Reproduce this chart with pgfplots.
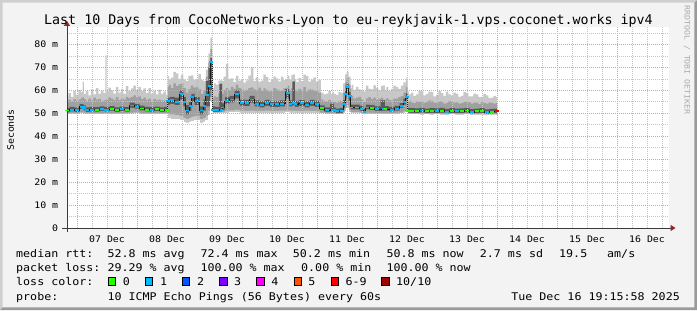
\documentclass[border=0pt]{standalone}
\usepackage{pgfplots}
\pgfplotsset{compat=1.18}
\usepackage{pgfplotstable}
\usetikzlibrary{arrows.meta}
\usepackage{fontspec}
\setmainfont{DejaVu Sans Mono}
\newfontfamily\titlef{DejaVu Sans Mono}
\newfontfamily\stf[FakeStretch=1.1]{DejaVu Sans Mono}
\newcommand\Ttl{\titlef\fontsize{13.3bp}{16bp}\selectfont}
\newcommand\Leg{\stf\fontsize{10.6bp}{13bp}\selectfont}
\newcommand\Tck{\stf\fontsize{9bp}{11bp}\selectfont}
\newcommand\Wm{\stf\fontsize{7.5bp}{9bp}\selectfont}

\definecolor{bgc}{HTML}{F3F3F3}
\definecolor{shadea}{HTML}{CFCFCF}
\definecolor{shadeb}{HTML}{9A9A9A}
\definecolor{gridred}{HTML}{E89A9A}
\definecolor{gridgray}{HTML}{C4C4C4}
\definecolor{smk1}{HTML}{C8C8C8}
\definecolor{smk2}{HTML}{A0A0A0}
\definecolor{smk3}{HTML}{5A5A5A}
\definecolor{medc}{HTML}{1A1A1A}
\definecolor{arrowc}{HTML}{9B2222}
\definecolor{axc}{HTML}{3C3C3C}
\definecolor{wmc}{HTML}{ABABAB}
\definecolor{L0}{HTML}{26FF00}
\definecolor{L1}{HTML}{00B8FF}
\definecolor{L2}{HTML}{0059FF}
\definecolor{L3}{HTML}{7E00FF}
\definecolor{L4}{HTML}{FF00FF}
\definecolor{L5}{HTML}{FF5500}
\definecolor{L6}{HTML}{FF0000}
\definecolor{L10}{HTML}{A10000}

% h = hours after 07 Dec 00:00; values in ms
% upper smoke: hi = smoke top, mt = top of medium smoke
\pgfplotstableread{
h hi mt
-4 57.5 55.0
-3 58.9 55.8
-2 57.2 55.2
-1 59.6 56.2
0 58.0 55.4
1 60.1 56.0
2 59.2 56.6
2.4 63.8 57.0
3 58.4 56.2
4 59.6 55.4
5 57.8 56.4
6 60.4 55.6
7 58.2 56.8
8 61.0 55.9
9 58.6 56.3
10 59.8 55.4
11 58.8 55.6
11.6 75.2 56.0
12 59.4 56.0
13 61.2 56.9
14 60.0 56.4
15 58.6 55.7
16 61.4 57.0
17 59.0 55.7
18 60.6 56.5
19 58.4 56.1
20 61.8 57.2
21 59.6 56.6
22 60.8 57.2
23 62.0 57.8
24 60.2 56.9
25 61.4 57.4
26 59.8 56.2
27 60.9 56.8
28 58.8 55.8
29 61.0 56.4
30 58.6 55.4
31 59.9 56.2
32 58.2 55.6
33 60.3 56.0
34 58.4 55.5
35 59.4 55.6
36 58.0 55.4
36.4 66.2 61.5
37 64.8 62.4
38 65.5 61.0
39 68.0 63.0
40 67.4 61.8
41 65.0 62.6
42 66.8 63.0
43 64.8 61.0
44 64.0 59.0
45 66.2 60.5
46 66.5 62.0
47 64.6 61.2
48 65.0 61.5
49 67.2 60.4
50 64.6 58.5
51 64.0 60.0
52 69.0 66.0
53 76.0 72.0
53.6 83.0 78.0
54.4 61.0 56.5
55 63.0 57.4
56 62.5 57.0
57 64.2 58.6
57.8 64.5 63.0
58.2 64.0 58.5
59 66.0 60.2
60 71.5 61.0
61 65.0 60.2
62 65.2 61.5
63 63.6 60.6
64 66.3 62.5
65 64.2 61.0
66 65.0 60.5
67 63.4 59.6
68 64.3 60.2
69 66.4 61.0
70 70.0 61.3
71 64.0 60.4
72 65.6 60.0
73 63.8 61.2
74 64.2 59.6
75 66.8 60.8
76 65.8 60.2
77 63.6 59.4
78 64.6 59.8
79 66.0 61.0
80 65.2 60.4
81 63.9 59.6
82 66.0 59.9
83 64.4 60.8
84 65.0 61.2
84.4 66.4 62.0
85.4 64.8 60.0
86 66.6 61.0
86.8 67.0 64.0
87.4 65.0 60.2
88 63.6 59.5
89 65.4 60.6
90 64.0 60.0
91 66.8 61.4
92 66.2 59.5
93 63.8 60.4
94 64.8 60.3
95 65.6 59.8
96 63.8 59.6
97 64.6 59.0
98 59.0 56.0
99 58.2 55.4
100 58.6 55.2
101 59.6 55.8
102 58.4 55.0
102.4 59.2 55.4
103 58.4 55.0
104 58.0 54.6
105 59.2 55.4
106 59.0 55.2
106.8 63.0 59.0
107.6 67.0 63.5
108 68.2 65.5
109.2 66.0 62.5
109.6 61.0 57.0
110 62.4 57.6
111 60.2 56.4
112 61.5 56.8
113 60.4 57.2
114 60.0 56.2
115 59.5 55.0
116 62.0 56.5
117 60.6 57.0
118 60.4 56.2
119 62.2 56.8
120 61.0 55.8
121 60.0 56.4
122 61.8 56.8
122.8 62.2 56.0
123.4 60.0 56.0
124 61.4 56.6
125 59.8 55.8
126 60.6 55.6
127 62.0 56.4
128 61.4 56.4
129 60.6 57.0
130 62.0 57.5
131 63.5 59.0
132 65.2 61.5
132.4 59.5 55.0
133 58.2 55.4
134 59.0 54.8
135 57.6 54.4
136 58.2 55.2
137 59.8 55.0
138 59.6 54.9
139 57.8 54.5
140 58.4 55.0
141 59.4 55.6
142 59.2 55.4
143 57.4 54.6
144 58.0 54.6
145 59.6 55.2
146 58.8 55.0
147 57.6 54.2
148 59.4 54.5
149 58.2 55.4
150 57.8 55.1
151 59.0 54.6
152 58.6 54.8
153 57.2 54.2
154 57.6 54.4
155 59.2 55.0
156 58.8 55.0
157 57.4 54.8
158 57.4 54.2
159 58.6 54.6
160 58.2 54.6
161 57.0 54.0
162 57.2 54.9
163 58.4 54.4
164 57.8 54.2
165 56.6 54.6
166 56.8 54.5
167 57.6 54.2
168 57.0 54.4
}\upper

% lo: smoke bottom, ml/dl: lower edges of medium/dark smoke,
% med: median, dt: top of dark smoke, c: loss class
\pgfplotstableread{
h lo ml dl med dt c
-4 49.6 50.1 50.4 51.2 52.4 g
-2 49.7 50.2 50.8 51.6 52.8 c
0 49.5 50.0 50.5 51.3 52.5 c
2 49.8 50.4 51.8 52.8 54.0 c
2.4 49.8 50.4 51.8 52.8 54.0 c
2.8 49.7 50.3 51.3 52.2 53.4 c
4 49.6 50.1 50.6 51.4 52.6 c
6 49.5 50.0 50.8 51.6 52.8 c
8 49.6 50.1 50.7 51.5 52.7 g
10 49.5 50.0 51.0 51.8 53.0 c
11.6 49.6 50.1 50.8 51.6 52.8 c
12 49.6 50.1 50.8 51.6 52.8 c
14 49.5 50.0 51.1 51.9 53.1 g
16 49.6 50.1 50.6 51.4 52.6 g
18 49.5 50.0 50.9 51.7 52.9 c
20 49.6 50.1 50.7 51.5 52.7 g
22 49.7 50.3 52.4 53.4 54.6 c
24 49.8 50.4 52.0 52.9 54.1 c
26 49.6 50.1 51.3 52.1 53.3 g
28 49.5 50.0 50.8 51.6 52.8 g
30 49.5 50.0 50.7 51.5 52.7 c
32 49.6 50.1 50.9 51.7 52.9 g
34 49.5 50.0 50.6 51.4 52.6 g
36 49.6 50.1 50.8 51.6 52.8 g
36.4 47.8 49.8 53.7 55.2 56.8 c
38 47.5 49.5 54.1 55.6 57.2 c
40 47.2 49.2 53.5 55.0 56.8 c
42 46.8 48.8 56.0 58.4 60.0 c
43 46.0 48.0 53.0 55.0 57.0 c
44 45.8 47.5 49.5 51.2 53.5 c
45.5 46.2 48.0 51.0 53.0 55.0 c
46 46.5 48.5 55.0 57.0 58.5 c
48 46.8 48.8 53.5 55.2 57.0 c
50 45.8 47.5 49.5 51.2 53.0 c
51 46.2 48.0 51.0 53.0 56.0 c
52 47.0 49.0 53.0 58.0 64.0 c
53 49.0 51.0 53.0 62.0 70.0 c
53.6 55.0 57.0 60.0 72.5 74.0 c
54.4 49.8 50.4 50.6 51.4 53.0 c
56 49.8 50.4 50.6 51.4 52.8 c
57.8 49.9 50.5 50.8 51.6 62.8 c
58.2 49.9 50.5 51.5 52.5 54.3 c
60 50.2 51.2 54.2 55.4 57.0 c
62 50.3 51.3 54.8 56.0 57.6 c
64 50.5 51.5 56.5 58.3 60.0 c
66 50.2 51.2 53.3 54.5 56.0 c
68 50.0 51.0 53.1 54.3 55.8 c
70 50.1 51.1 54.6 56.0 57.6 c
72 50.0 51.0 53.0 54.2 55.6 c
74 50.0 51.0 52.6 53.8 55.2 c
76 50.1 51.1 53.2 54.4 55.8 c
78 50.0 51.0 52.8 54.0 55.4 c
80 50.0 51.0 52.7 53.9 55.3 c
82 50.1 51.1 53.0 54.2 55.6 c
84.4 50.3 51.3 56.5 59.0 60.5 c
85.4 50.1 51.1 53.0 54.2 55.6 c
86.8 50.2 51.2 53.4 54.6 63.8 c
87.4 50.0 51.0 52.8 54.0 55.4 c
90 50.0 51.0 53.1 54.3 55.7 c
92 50.1 51.1 52.6 53.8 55.2 c
94 50.0 51.0 53.2 54.4 55.8 c
96 50.0 51.0 52.8 54.0 55.4 c
98 49.8 50.3 51.4 52.2 53.4 g
100 49.6 50.1 50.6 51.4 52.6 c
102.4 49.6 50.1 50.8 51.6 54.2 c
103 49.5 50.0 50.5 51.3 52.5 c
104 49.4 49.9 50.0 50.8 52.0 c
106 49.5 50.0 50.2 51.0 52.4 c
106.8 50.0 50.8 52.5 54.0 55.8 c
107.6 51.0 52.0 56.5 58.5 60.2 c
108 52.0 53.5 59.5 61.6 63.0 c
109.2 50.5 51.5 55.5 57.5 59.3 c
109.6 50.0 50.5 51.7 52.5 53.8 g
112 50.0 50.5 51.7 52.5 53.8 g
114 49.8 50.3 51.2 52.0 53.3 c
115 49.5 50.0 50.0 50.6 52.0 c
116 49.7 50.2 51.7 52.5 53.8 c
118 49.7 50.2 51.4 52.2 53.5 g
120 49.6 50.1 51.0 51.8 53.0 c
122.8 49.6 50.1 51.0 51.8 55.6 c
123.4 49.6 50.1 51.1 51.9 53.1 g
126 49.6 50.1 50.8 51.6 52.8 c
128 49.7 50.2 51.2 52.0 53.2 c
130 49.8 50.3 52.2 53.0 54.4 c
131 50.2 50.8 53.8 55.0 56.4 c
132 50.5 51.2 55.8 57.2 58.8 c
132.4 49.6 50.1 50.3 51.1 52.4 g
134 49.4 49.9 50.2 51.0 52.2 g
136 49.4 49.9 50.1 50.9 52.1 g
138 49.3 49.8 50.4 51.2 52.4 c
140 49.4 49.9 50.0 50.8 52.0 g
142 49.3 49.8 50.2 51.0 52.2 g
144 49.4 49.9 50.1 50.9 52.1 c
146 49.3 49.8 50.3 51.1 52.3 g
148 49.3 49.8 49.9 50.7 51.9 c
150 49.4 49.9 50.2 51.0 52.2 g
152 49.3 49.8 50.0 50.8 52.0 c
154 49.3 49.8 50.1 50.9 52.1 g
156 49.4 49.9 50.4 51.2 52.4 g
158 49.3 49.8 49.8 50.6 51.8 c
160 49.3 49.8 50.0 50.8 52.0 g
162 49.3 49.8 50.2 51.0 52.2 g
164 49.2 49.7 49.7 50.5 51.7 c
166 49.3 49.8 49.9 50.7 51.9 g
168 49.3 49.8 50.0 50.8 52.0 r
}\smoke

\begin{document}
\begin{tikzpicture}[x=1bp,y=1bp]
% background and 3D border
\fill[bgc] (0,0) rectangle (697,310);
\fill[shadea] (0,0) -- (0,310) -- (697,310) -- (694.3,307.3) -- (2.7,307.3) -- (2.7,2.7) -- cycle;
\fill[shadeb] (0,0) -- (697,0) -- (697,310) -- (694.3,307.3) -- (694.3,2.7) -- (2.7,2.7) -- cycle;

\begin{axis}[
  at={(67bp,82bp)}, anchor=south west,
  scale only axis, width=602bp, height=201bp,
  xmin=-4, xmax=236.8, ymin=0, ymax=87.6,
  axis background/.style={fill=white},
  axis on top,
  axis lines=left,
  axis line style={draw=axc, line width=1bp},
  x axis line style={-{Triangle[length=5bp,width=6bp,color=arrowc,fill=arrowc]}, shorten >=-6.5bp, shorten <=-5bp},
  y axis line style={-{Triangle[length=5bp,width=6bp,color=arrowc,fill=arrowc]}, shorten >=-6bp, shorten <=-3.5bp},
  grid=both,
  major grid style={draw=gridred, line width=0.6bp, dash pattern=on 1bp off 1bp},
  minor grid style={draw=gridgray, line width=0.6bp, dash pattern=on 1bp off 1bp},
  xtick={0,24,...,216},
  xticklabels={},
  minor xtick={6,12,...,234},
  extra x ticks={12,36,...,228},
  extra x tick labels={07 Dec,08 Dec,09 Dec,10 Dec,11 Dec,12 Dec,13 Dec,14 Dec,15 Dec,16 Dec},
  extra x tick style={grid=none},
  ytick={0,10,...,80},
  yticklabels={0,10 m,20 m,30 m,40 m,50 m,60 m,70 m,80 m},
  minor ytick={5,15,...,85},
  tick style={draw=none},
  xticklabel style={font=\Tck, anchor=base, inner sep=0pt, yshift=-12.7bp, text=black},
  yticklabel style={font=\Tck, anchor=east, inner sep=0pt, xshift=-6.5bp, text=black},
]
\addplot[const plot mark mid, fill=smk1, draw=none] table[x=h,y=hi]{\upper} \closedcycle;
\addplot[const plot mark mid, fill=smk2, draw=none] table[x=h,y=mt]{\upper} \closedcycle;
\addplot[const plot mark mid, fill=smk3, draw=none] table[x=h,y=dt]{\smoke} \closedcycle;
\addplot[const plot mark mid, fill=smk2, draw=none] table[x=h,y=dl]{\smoke} \closedcycle;
\addplot[const plot mark mid, fill=smk1, draw=none] table[x=h,y=ml]{\smoke} \closedcycle;
\addplot[const plot mark mid, fill=white, draw=white, line width=0.6bp] table[x=h,y=lo]{\smoke} \closedcycle;
\addplot[const plot mark mid, draw=medc, line width=0.7bp] table[x=h,y=med]{\smoke};
\addplot[scatter, only marks, scatter src=explicit symbolic,
  mark=-, mark size=1.9bp, mark options={line width=1.9bp},
  scatter/classes={g={mark=-,draw=L0}, c={mark=-,draw=L1}, r={mark=-,draw=L6}}]
  table[x=h,y=med,meta=c]{\smoke};
\end{axis}

% title, axis label, watermark
\node[anchor=base, inner sep=0pt, font=\Ttl] at (348.5,286) {Last 10 Days from CocoNetworks-Lyon to eu-reykjavik-1.vps.coconet.works ipv4};
\node[rotate=90, inner sep=0pt, font=\Tck] at (10.5,180) {Seconds};
\node[rotate=-90, inner sep=0pt, font=\Wm, text=wmc] at (687,250) {RRDTOOL / TOBI OETIKER};

% legend
\begin{scope}[every node/.style={anchor=base west, inner sep=0pt, font=\Leg}]
\node at (16,52.7) {median rtt:};
\node at (107.3,52.7) {52.8 ms avg};
\node at (200.3,52.7) {72.4 ms max};
\node at (292.7,52.7) {50.2 ms min};
\node at (386.3,52.7) {50.8 ms now};
\node at (479.7,52.7) {2.7 ms sd};
\node at (559,52.7) {19.5};
\node at (607,52.7) {am/s};
\node at (16,38.5) {packet loss:};
\node at (107.3,38.5) {29.29 \% avg};
\node at (200.3,38.5) {100.00 \% max};
\node at (301,38.5) {0.00 \% min};
\node at (386.3,38.5) {100.00 \% now};
\node at (16,24.3) {loss color:};
\node at (122.7,24.3) {0};
\node at (159.8,24.3) {1};
\node at (196.9,24.3) {2};
\node at (234.0,24.3) {3};
\node at (271.1,24.3) {4};
\node at (308.2,24.3) {5};
\node at (345.3,24.3) {6-9};
\node at (396.0,24.3) {10/10};
\node at (16,10) {probe:};
\node at (107.3,10) {10 ICMP Echo Pings (56 Bytes) every 60s};
\node[anchor=base east] at (680,10) {Tue Dec 16 19:15:58 2025};
\end{scope}
\foreach \xx/\cc in {108/L0,145.1/L1,182.2/L2,219.3/L3,256.4/L4,293.5/L5,330.6/L6,381.3/L10}{
  \filldraw[fill=\cc, draw=black, line width=0.8bp] (\xx+0.4,25.1) rectangle (\xx+7.6,32.3);
}
\pgfresetboundingbox
\useasboundingbox (0,0) rectangle (697,310);
\end{tikzpicture}
\end{document}
